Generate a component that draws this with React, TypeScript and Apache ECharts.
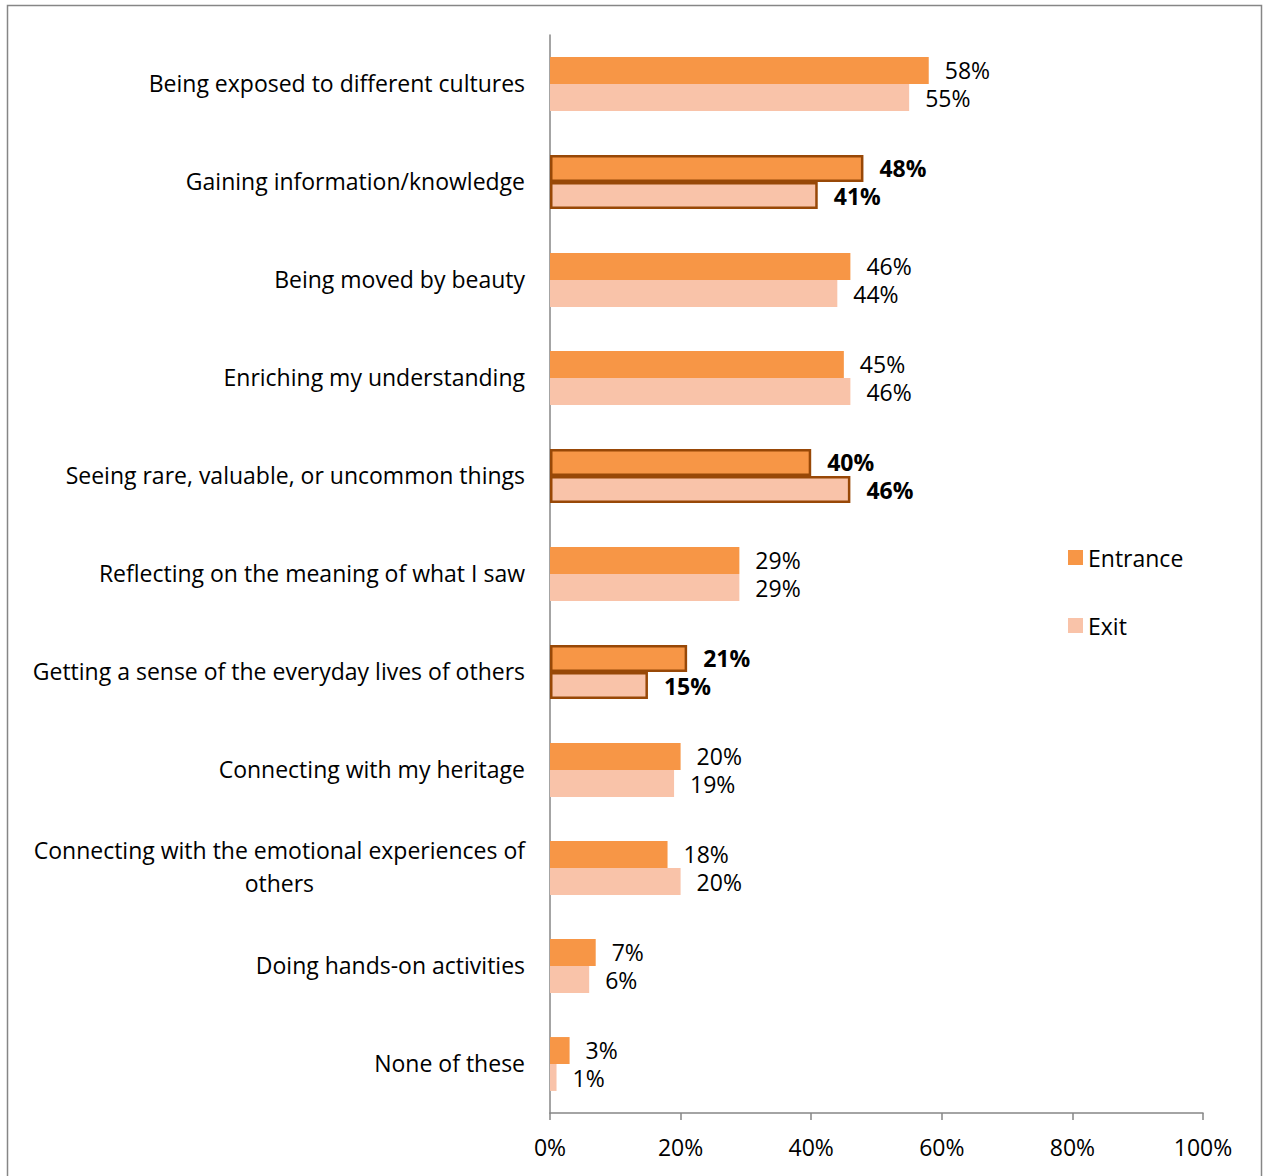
import React, { useEffect, useRef } from "react";
import * as echarts from "echarts";

const categories = [
  "Being exposed to different cultures",
  "Gaining information/knowledge",
  "Being moved by beauty",
  "Enriching my understanding",
  "Seeing rare, valuable, or uncommon things",
  "Reflecting on the meaning of what I saw",
  "Getting a sense of the everyday lives of others",
  "Connecting with my heritage",
  "Connecting with the emotional experiences of\nothers",
  "Doing hands-on activities",
  "None of these",
];
const entrance = [58, 48, 46, 45, 40, 29, 21, 20, 18, 7, 3];
const exit = [55, 41, 44, 46, 46, 29, 15, 19, 20, 6, 1];
const highlighted = [1, 4, 6];
const xTicks = [0, 20, 40, 60, 80, 100];

const FONT = "'Open Sans', sans-serif";
const FS = 23;

export default function App() {
  const ref = useRef<HTMLDivElement>(null);
  useEffect(() => {
    const chart = echarts.init(ref.current!, null, { renderer: "svg" });
    const mk = (vals: number[], color: string) =>
      vals.map((v, i) => {
        const hi = highlighted.includes(i);
        return {
          value: v,
          itemStyle: hi
            ? { color, borderColor: "#984807", borderWidth: 2.5 }
            : { color },
          label: hi ? { fontWeight: "bold" } : {},
        };
      });
    const labelCfg = (dy: number) => ({
      show: true,
      position: "right",
      distance: 16,
      offset: [0, dy],
      formatter: "{c}%",
      fontFamily: FONT,
      fontSize: FS,
      lineHeight: 25,
      color: "#000",
    });
    chart.setOption({
      animation: false,
      backgroundColor: "#fff",
      textStyle: { fontFamily: FONT },
      graphic: [
        {
          type: "rect",
          shape: { x: 7.5, y: 5.5, width: 1254, height: 1200 },
          style: { fill: "none", stroke: "#868686", lineWidth: 1.5 },
          silent: true,
        },
      ],
      legend: {
        orient: "vertical",
        left: 1063,
        top: 541,
        itemWidth: 15,
        itemHeight: 15,
        itemGap: 45,
        icon: "rect",
        textStyle: { fontFamily: FONT, fontSize: FS, color: "#000" },
        data: ["Entrance", "Exit"],
      },
      grid: { left: 550, right: 60, top: 35, bottom: 63, containLabel: false },
      xAxis: {
        type: "value",
        min: xTicks[0],
        max: xTicks[xTicks.length - 1],
        interval: 20,
        axisLine: { show: true, lineStyle: { color: "#868686", width: 1.5 } },
        axisTick: { show: true, length: 7, lineStyle: { color: "#868686", width: 1.5 } },
        splitLine: { show: false },
        axisLabel: {
          formatter: "{value}%",
          fontFamily: FONT,
          fontSize: FS,
          color: "#000",
          margin: 22,
        },
      },
      yAxis: {
        type: "category",
        inverse: true,
        data: categories,
        axisLine: { show: true, lineStyle: { color: "#868686", width: 1.5 } },
        axisTick: { show: false },
        axisLabel: {
          margin: 25,
          fontFamily: FONT,
          fontSize: FS,
          color: "#000",
          align: "right",
          formatter: (v: string) =>
            v
              .split("\n")
              .map((s) => `{c|${s}}`)
              .join("\n"),
          rich: {
            c: {
              align: "center",
              fontFamily: FONT,
              fontSize: FS,
              color: "#000",
              lineHeight: 33,
              padding: [0, 0, 3, 0],
            },
          },
        },
      },
      series: [
        {
          name: "Entrance",
          type: "bar",
          data: mk(entrance, "#F79646"),
          barGap: "0%",
          barCategoryGap: "45%",
          label: labelCfg(-1),
          itemStyle: { color: "#F79646" },
        },
        {
          name: "Exit",
          type: "bar",
          data: mk(exit, "#F9C3A9"),
          barGap: "0%",
          barCategoryGap: "45%",
          label: labelCfg(1),
          itemStyle: { color: "#F9C3A9" },
        },
      ],
    });
    return () => chart.dispose();
  }, []);
  return (
    <div
      ref={ref}
      style={{ position: "absolute", left: 0, top: 0, width: 1263, height: 1176 }}
    />
  );
}
